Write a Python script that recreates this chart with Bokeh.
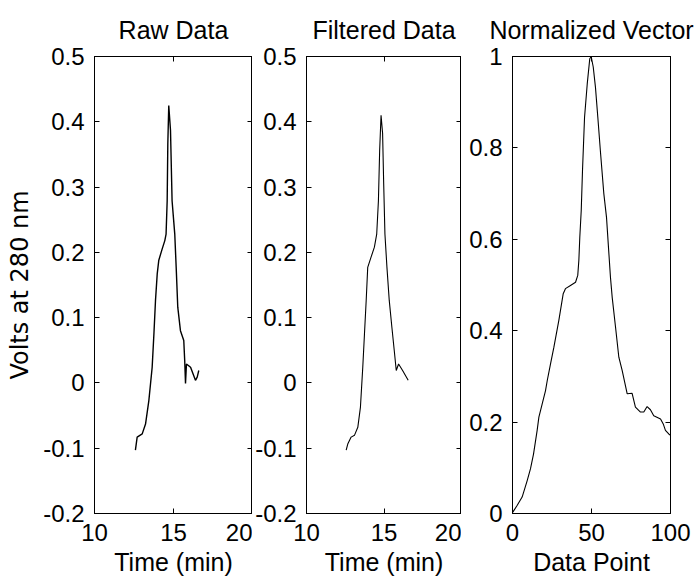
from bokeh.plotting import figure
from bokeh.layouts import row
from bokeh.models import LinearAxis, FixedTicker, Range1d
from bokeh.embed import file_html
from bokeh.resources import INLINE

# ---------------- data ----------------
raw_time = [12.59, 12.70, 13.02, 13.23, 13.44, 13.65, 13.76, 13.86, 13.97, 14.07,
            14.28, 14.45, 14.53, 14.60, 14.64, 14.70, 14.81, 14.91, 15.08, 15.17,
            15.27, 15.44, 15.65, 15.71, 15.76, 15.82, 16.08, 16.39, 16.50, 16.60]
raw_volts = [-0.103, -0.083, -0.078, -0.063, -0.027, 0.024, 0.075, 0.126, 0.167, 0.188,
             0.205, 0.218, 0.228, 0.279, 0.366, 0.425, 0.387, 0.279, 0.228, 0.177,
             0.116, 0.080, 0.065, 0.034, -0.001, 0.029, 0.024, 0.004, 0.009, 0.019]

filt_time = [12.56, 12.67, 12.88, 13.10, 13.31, 13.48, 13.63, 13.74, 13.85, 13.95,
             14.17, 14.38, 14.53, 14.64, 14.72, 14.81, 14.91, 14.98, 15.06, 15.19,
             15.34, 15.51, 15.66, 15.79, 15.94, 16.20, 16.56]
filt_volts = [-0.103, -0.093, -0.083, -0.080, -0.068, -0.037, 0.024, 0.075, 0.126, 0.177,
              0.193, 0.208, 0.228, 0.279, 0.356, 0.410, 0.382, 0.305, 0.228, 0.177,
              0.126, 0.085, 0.050, 0.019, 0.029, 0.019, 0.004]

vec_point = [0.2, 3, 6.1, 9.3, 11.4, 13.3, 15.6, 16.7, 18.8, 20.9, 22, 24.1, 26.2, 29.3,
             32.1, 33.5, 36.7, 39.9, 41.3, 42.0, 42.6, 43.5, 44.3, 45.6, 47.3, 48.9,
             49.8, 51.1, 52.5, 54.0, 55.7, 57.8, 59.5, 60.6, 62.0, 63.1, 65.2, 67.3,
             69.4, 72.6, 75.7, 77.8, 81.0, 83.1, 85.2, 87.3, 89.4, 93.7, 95.4, 96.8,
             98.9, 100]
vec_value = [0.003, 0.018, 0.036, 0.072, 0.098, 0.130, 0.182, 0.211, 0.240, 0.269, 0.291,
             0.328, 0.364, 0.422, 0.481, 0.492, 0.499, 0.506, 0.521, 0.554, 0.605, 0.663,
             0.750, 0.867, 0.940, 0.995, 1.0, 0.977, 0.933, 0.867, 0.790, 0.700, 0.648,
             0.590, 0.517, 0.473, 0.408, 0.342, 0.313, 0.262, 0.263, 0.233, 0.222, 0.222,
             0.234, 0.227, 0.214, 0.207, 0.196, 0.182, 0.174, 0.171]

time_ticks = [10, 15, 20]
time_labels = ["10", "15", "20"]
volt_ticks = [-0.2, -0.1, 0, 0.1, 0.2, 0.3, 0.4, 0.5]
volt_labels = ["-0.2", "-0.1", "0", "0.1", "0.2", "0.3", "0.4", "0.5"]
point_ticks = [0, 50, 100]
point_labels = ["0", "50", "100"]
norm_ticks = [0, 0.2, 0.4, 0.6, 0.8, 1]
norm_labels = ["0", "0.2", "0.4", "0.6", "0.8", "1"]

titles = ["Raw Data", "Filtered Data", "Normalized Vector"]

FONT = "Liberation Sans"
HEIGHT = 578


def make_panel(title, xr, yr, xt, xl, yt, yl, xlabel, ylabel, width, left, right):
    p = figure(width=width, height=HEIGHT, title=None,
               x_range=Range1d(*xr), y_range=Range1d(*yr),
               output_backend="svg", toolbar_location=None,
               min_border_left=left, min_border_right=right,
               min_border_top=56, min_border_bottom=65,
               x_axis_location=None, y_axis_location=None)
    p.grid.visible = False
    p.outline_line_color = "black"
    p.outline_line_width = 1
    p.background_fill_color = "white"
    p.border_fill_color = "white"

    def axis(ticks, labels, shown, label=None):
        ax = LinearAxis(ticker=FixedTicker(ticks=ticks))
        ax.major_tick_in = 5
        ax.major_tick_out = 0
        ax.minor_tick_line_color = None
        ax.axis_line_color = "black"
        ax.major_tick_line_color = "black"
        if shown:
            ax.major_label_overrides = dict(zip(ticks, labels))
            ax.major_label_text_font = FONT
            ax.major_label_text_font_size = "24px"
            ax.major_label_text_color = "black"
            ax.major_label_standoff = 10
        else:
            ax.major_label_overrides = {t: "" for t in ticks}
            ax.major_label_text_font_size = "0px"
            ax.major_label_standoff = 0
        if label:
            ax.axis_label = label
            ax.axis_label_text_font_style = "normal"
            ax.axis_label_text_color = "black"
        return ax

    # bottom axis with time / data point label
    bx = axis(xt, xl, True, xlabel)
    bx.major_label_standoff = 10
    bx.axis_label_text_font = FONT
    bx.axis_label_text_font_size = "25px"
    bx.axis_label_standoff = 4
    p.add_layout(bx, "below")

    ly = axis(yt, yl, True, ylabel)
    if ylabel:
        ly.axis_label_text_font = "DejaVu Sans"
        ly.axis_label_text_font_size = "24px"
        ly.axis_label_standoff = 6
    p.add_layout(ly, "left")

    p.add_layout(axis(yt, yl, False), "right")

    # top axis: inside ticks plus the panel title
    top = axis(xt, xl, False, title)
    top.axis_label_text_font = FONT
    top.axis_label_text_font_size = "25px"
    top.axis_label_standoff = 13
    p.add_layout(top, "above")
    return p


p1 = make_panel(titles[0], (10, 20), (-0.2, 0.5), time_ticks, time_labels,
                volt_ticks, volt_labels, "Time (min)", "Volts at 280 nm", 252, 94, 0)
p1.line(raw_time, raw_volts, line_color="black", line_width=1.4)

p2 = make_panel(titles[1], (10, 20), (-0.2, 0.5), time_ticks, time_labels,
                volt_ticks, volt_labels, "Time (min)", None, 209, 53, 0)
p2.line(filt_time, filt_volts, line_color="black", line_width=1.1)

p3 = make_panel(titles[2], (0, 100), (0, 1), point_ticks, point_labels,
                norm_ticks, norm_labels, "Data Point", None, 236, 51, 27)
p3.line(vec_point, vec_value, line_color="black", line_width=1.1)

layout = row(p1, p2, p3, spacing=0)

open("out.html", "w").write(file_html(layout, INLINE))
